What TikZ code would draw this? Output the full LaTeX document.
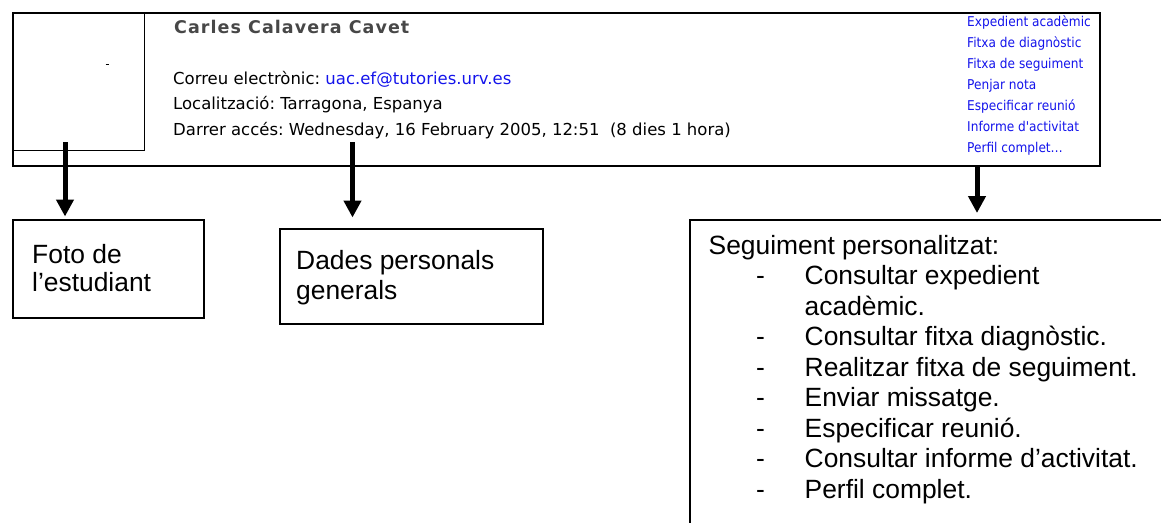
\documentclass[tikz,border=0pt]{standalone}
\usepackage{fontspec}
\setmainfont{Liberation Sans}
\newfontfamily\uifont{DejaVu Sans}
\newfontfamily\uinamefont{DejaVu Sans}[LetterSpace=6]
\newfontfamily\uilinkfont{DejaVu Sans}[FakeStretch=0.9]
\usetikzlibrary{arrows.meta}
\definecolor{linkblue}{RGB}{20,20,235}
\frenchspacing

\tikzset{
  boxframe/.style={draw, line width=1.6pt, inner sep=0pt, anchor=north west},
  boxtext/.style={inner sep=0pt, anchor=base west, font=\fontsize{26.4}{30.5}\selectfont},
  uitext/.style={inner sep=0pt, anchor=base west, font=\uifont\fontsize{16.5}{19}\selectfont},
  uilink/.style={inner sep=0pt, anchor=base west, text=linkblue, font=\uilinkfont\fontsize{13.5}{16}\selectfont},
  pointer/.style={line width=5pt, -{Triangle[width=17pt,length=17pt]}},
}

\begin{document}
\begin{tikzpicture}[x=1pt,y=-1pt]
\useasboundingbox (0,0) rectangle (1161,522);

% profile card
\node[boxframe, minimum width=1087pt, minimum height=153pt] (shot) at (12,12) {};
\node[boxframe, line width=1pt, minimum width=132pt, minimum height=138pt] (photo) at (12,12) {};
\draw[line width=1pt] (105.5,64) -- (108.5,64);

\node[uitext, font=\uinamefont\bfseries\fontsize{17.5}{20}\selectfont, text=black!72] (name) at (174,33) {Carles Calavera Cavet};
\node[uitext] (mail) at (173,84) {Correu electrònic: {\color{linkblue}uac.ef@tutories.urv.es}};
\node[uitext] (place) at (173,109.5) {Localització: Tarragona, Espanya};
\node[uitext] (last) at (173,135) {Darrer accés: Wednesday, 16 February 2005, 12:51\ \ (8 dies 1 hora)};

\node[uilink] (l1) at (967,26)    {Expedient acadèmic};
\node[uilink] (l2) at (967,47)    {Fitxa de diagnòstic};
\node[uilink] (l3) at (967,68)    {Fitxa de seguiment};
\node[uilink] (l4) at (967,89.3)  {Penjar nota};
\node[uilink] (l5) at (967,110.5) {Especificar reunió};
\node[uilink] (l6) at (967,131.7) {Informe d'activitat};
\node[uilink] (l7) at (967,152.7) {Perfil complet\ldots};

% caption boxes
\node[boxframe, line width=1.8pt, minimum width=191pt, minimum height=98pt] (fotobox) at (12,219) {};
\node[boxtext] (foto1) at (32,263) {Foto de};
\node[boxtext] (foto2) at (32,291) {l’estudiant};

\node[boxframe, line width=1.8pt, minimum width=263pt, minimum height=95pt] (dadesbox) at (279,228) {};
\node[boxtext] (dades1) at (296,269) {Dades personals};
\node[boxtext] (dades2) at (296,299.5) {generals};

\node[boxframe, line width=1.8pt, minimum width=520pt, minimum height=340pt] (segbox) at (689,219) {};
\node[boxtext] (seg0) at (708.5,254) {Seguiment personalitzat:};
\foreach \txt/\yy/\dash [count=\i] in {
    Consultar expedient/284.5/1,
    acadèmic./315/0,
    Consultar fitxa diagnòstic./345.5/1,
    Realitzar fitxa de seguiment./376/1,
    Enviar missatge./406.5/1,
    Especificar reunió./437/1,
    Consultar informe d’activitat./467.5/1,
    Perfil complet./498/1} {
  \node[boxtext] (seg\i) at (804.5,\yy) {\txt};
  \ifnum\dash=1
    \node[boxtext] (dash\i) at (756,\yy) {-};
  \fi
}

% pointers
\coordinate (p1) at (65,142);
\coordinate (p2) at (352.5,142);
\coordinate (p3) at (shot.south -| 977,0);
\draw[pointer, shorten >=2.5pt] (p1) -- (p1 |- fotobox.north);
\draw[pointer, shorten >=10.5pt] (p2) -- (p2 |- dadesbox.north);
\draw[pointer, shorten >=6pt] (p3) -- (p3 |- segbox.north);
\end{tikzpicture}
\end{document}
